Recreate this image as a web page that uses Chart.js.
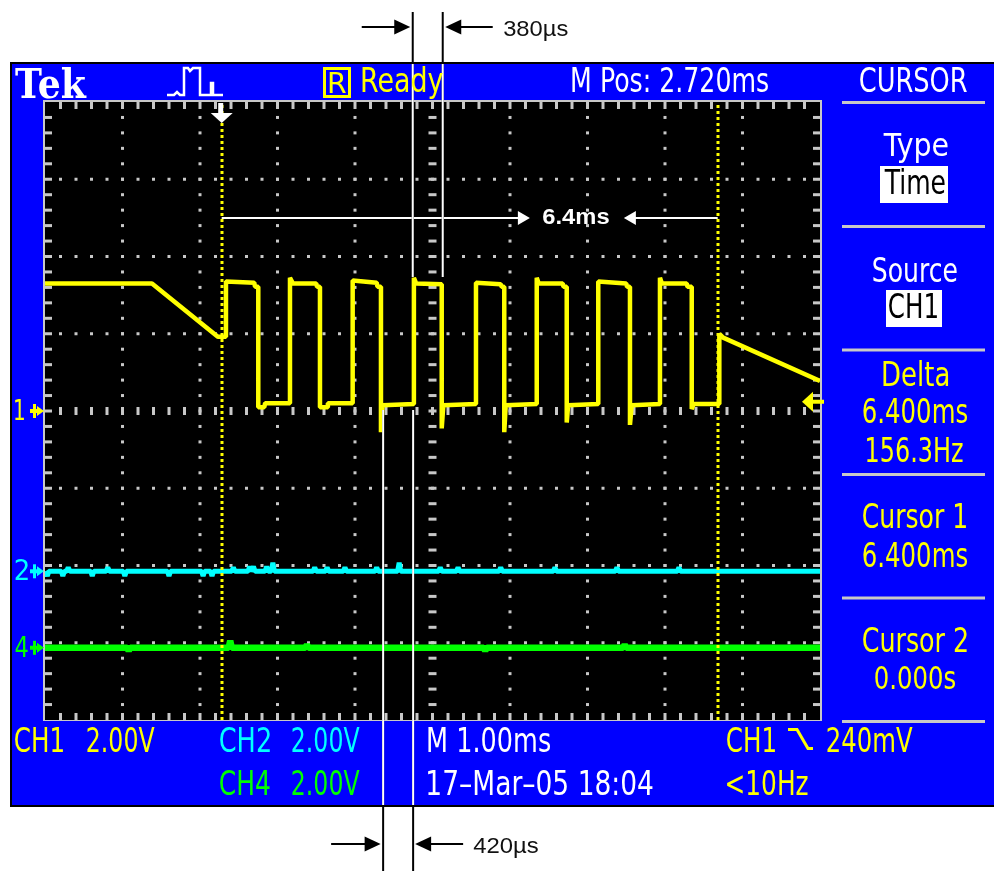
<!DOCTYPE html>
<html>
<head>
<meta charset="utf-8">
<title>Tek scope capture</title>
<script src="https://cdn.jsdelivr.net/npm/chart.js@4.4.0/dist/chart.umd.min.js"></script>
<style>
  html, body { margin: 0; padding: 0; background: #fff; }
  canvas { display: block; }
</style>
</head>
<body>
<canvas id="scope" width="994" height="871"></canvas>
<script>
const xRange = [-2.28, 7.72];
const yRange = [-8, 8];
const divsX = 10;
const divsY = 8;

const ch1Time = [
  -2.28, -0.9, -0.05, 0.03, 0.055, 0.055, 0.42, 0.43, 0.472, 0.472, 0.55, 0.56,
  0.881, 0.881, 0.92, 1.22, 1.23, 1.268, 1.268, 1.36, 1.37, 1.69, 1.69, 2.0,
  2.01, 2.055, 2.055, 2.075, 2.48, 2.48, 2.51, 2.839, 2.839, 2.86, 3.281, 3.281,
  3.6, 3.61, 3.646, 3.646, 3.665, 4.065, 4.065, 4.09, 4.4, 4.41, 4.452, 4.452,
  4.47, 4.859, 4.859, 5.22, 5.23, 5.268, 5.268, 5.29, 5.655, 5.655, 5.68, 6.0,
  6.01, 6.065, 6.065, 6.09, 6.421, 6.421, 6.47, 7.72,
];
const ch1Volts = [
  3.3, 3.3, 1.92, 1.92, 1.92, 3.35, 3.32, 3.22, 3.22, 0.1, 0.1, 0.2,
  0.2, 3.45, 3.3, 3.3, 3.22, 3.22, 0.1, 0.1, 0.2, 0.2, 3.38, 3.32,
  3.22, 3.22, -0.55, 0.15, 0.18, 3.45, 3.3, 3.28, -0.45, 0.15, 0.18, 3.32,
  3.28, 3.22, 3.22, -0.55, 0.15, 0.18, 3.45, 3.3, 3.3, 3.22, 3.22, -0.3,
  0.15, 0.18, 3.35, 3.3, 3.22, 3.22, -0.36, 0.15, 0.18, 3.45, 3.3, 3.3,
  3.22, 3.22, 0.05, 0.18, 0.18, 2.0, 1.9, 0.78,
];

// CH2 and CH4 sit flat at 0 V; only the noise specks are listed
const ch2Offset = -4.15;
const ch2SpikeTime = [-2.25, -2.05, -1.98, -1.67, -1.47, -1.25, -0.68, -0.24, -0.125, 0.15, 0.36, 0.41, 0.58, 0.66, 1.2, 1.36, 1.59, 2.0, 2.29, 2.82, 3.05, 3.6, 4.3, 5.1, 5.9];
const ch2SpikeVolts = [-0.12, -0.12, 0.1, -0.12, 0.1, -0.12, -0.12, -0.12, -0.12, 0.1, 0.12, 0.12, 0.12, 0.22, 0.1, 0.1, 0.1, 0.1, 0.22, 0.1, 0.1, 0.1, 0.1, 0.1, 0.1];
const ch4Offset = -6.13;
const ch4SpikeTime = [-1.2, 0.11, 1.1, 3.4, 5.2];
const ch4SpikeVolts = [-0.08, 0.18, 0.08, -0.08, 0.08];

const cursorTimes = [0, 6.4];
const triggerLevel = 0.24;
const measure380 = [2.465, 2.852];
const measure420 = [2.083, 2.47];
const deltaArrowVolts = 5.0;
const deltaLabelTime = 4.57;

const BLUE = "#0000ff";
const YELLOW = "#ffff00";
const CYAN = "#00ffff";
const GREEN = "#00ff00";
const GRID = "#c8c8c8";
const SCOPE_FONT = "40px 'DejaVu Sans'";

const toPoints = (ts, vs) => ts.map((t, i) => ({ x: t, y: vs[i] }));
const flatTrace = (offset, spikeT, spikeV) => {
  const pts = [{ x: xRange[0], y: offset }];
  spikeT.forEach((t, i) => {
    pts.push({ x: t - 0.02, y: offset }, { x: t, y: offset + spikeV[i] }, { x: t + 0.02, y: offset });
  });
  pts.push({ x: xRange[1], y: offset });
  return pts;
};

// squeeze text into a box: left/right edges, cap top and baseline
function fitText(ctx, txt, left, right, capTop, baseline, color, font) {
  ctx.save();
  ctx.font = font || SCOPE_FONT;
  const m = ctx.measureText(txt);
  const cap = ctx.measureText("H").actualBoundingBoxAscent;
  const w = m.actualBoundingBoxLeft + m.actualBoundingBoxRight;
  ctx.translate(left, baseline);
  ctx.scale((right - left) / w, (baseline - capTop) / cap);
  ctx.fillStyle = color;
  ctx.textBaseline = "alphabetic";
  ctx.textAlign = "left";
  ctx.fillText(txt, m.actualBoundingBoxLeft, 0);
  ctx.restore();
}

const scopeFace = {
  id: "scopeFace",
  beforeDraw(chart) {
    const { ctx, chartArea: a } = chart;
    const W = chart.width;
    ctx.save();
    ctx.fillStyle = "#fff";
    ctx.fillRect(0, 0, W, chart.height);
    ctx.fillStyle = "#000";
    ctx.fillRect(10, 62, W - 10, 745);
    ctx.fillStyle = BLUE;
    ctx.fillRect(12, 64, W - 12, 741);

    // graticule
    ctx.fillStyle = GRID;
    ctx.fillRect(a.left - 2, a.top - 2, a.width + 4, a.height + 3);
    ctx.fillStyle = "#000";
    ctx.fillRect(a.left, a.top, a.width, a.height);
    ctx.fillStyle = GRID;
    const dx = a.width / divsX, dy = a.height / divsY;
    const sx = dx / 5, sy = dy / 5;
    for (let i = 1; i < divsX; i++) {
      const x = a.left + i * dx;
      for (let k = 1; k < divsY * 5; k++) {
        const y = a.top + k * sy;
        if (i === divsX / 2) ctx.fillRect(x - 4, y - 1.5, 8, 3);
        else ctx.fillRect(x - 1.5, y - 1.5, 3, 3);
      }
    }
    for (let j = 1; j < divsY; j++) {
      const y = a.top + j * dy;
      for (let k = 1; k < divsX * 5; k++) {
        const x = a.left + k * sx;
        if (j === divsY / 2) ctx.fillRect(x - 1.5, y - 4, 3, 8);
        else ctx.fillRect(x - 1.5, y - 1.5, 3, 3);
      }
    }
    for (let k = 1; k < divsX * 5; k++) {
      const x = a.left + k * sx;
      ctx.fillRect(x - 1.5, a.top, 3, 7);
      ctx.fillRect(x - 1.5, a.bottom - 7, 3, 7);
    }
    for (let k = 1; k < divsY * 5; k++) {
      const y = a.top + k * sy;
      ctx.fillRect(a.left, y - 1.5, 7, 3);
      ctx.fillRect(a.right - 7, y - 1.5, 7, 3);
    }

    // menu separators
    [102.5, 226.5, 350, 474.5, 598, 721.5].forEach((y) => ctx.fillRect(842, y - 1.5, 143, 3));
    ctx.restore();
  },

  afterDatasetsDraw(chart) {
    const { ctx, chartArea: a } = chart;
    const xs = chart.scales.x, ys = chart.scales.y;
    ctx.save();

    // cursors
    ctx.fillStyle = YELLOW;
    cursorTimes.forEach((t) => {
      const x = Math.round(xs.getPixelForValue(t));
      for (let y = a.top + 3; y < a.bottom; y += 6) ctx.fillRect(x - 1.5, y, 3, 3);
    });

    // trigger position marker
    const tx = xs.getPixelForValue(0);
    ctx.fillStyle = "#fff";
    ctx.fillRect(tx - 3.5, a.top + 1, 5, 11);
    ctx.beginPath();
    ctx.moveTo(tx - 11, a.top + 11);
    ctx.lineTo(tx + 11, a.top + 11);
    ctx.lineTo(tx, a.top + 21);
    ctx.closePath();
    ctx.fill();

    // trigger level marker
    const ty = ys.getPixelForValue(triggerLevel);
    ctx.fillStyle = YELLOW;
    ctx.beginPath();
    ctx.moveTo(a.right - 18, ty);
    ctx.lineTo(a.right - 7, ty - 10);
    ctx.lineTo(a.right - 7, ty + 10);
    ctx.closePath();
    ctx.fill();
    ctx.fillRect(a.right - 8, ty - 2, 12, 4);

    // channel ground markers
    const chMarker = (label, color, v) => {
      const y = ys.getPixelForValue(v);
      fitText(ctx, label, 15, label === "1" ? 24 : 28, y - 12, y + 9, color);
      ctx.fillStyle = color;
      ctx.fillRect(33, y - 7, 3, 14);
      ctx.fillRect(30, y - 2, 10, 4);
      ctx.beginPath();
      ctx.moveTo(37, y - 5);
      ctx.lineTo(44, y);
      ctx.lineTo(37, y + 5);
      ctx.closePath();
      ctx.fill();
    };
    chMarker("1", YELLOW, 0);
    chMarker("2", CYAN, ch2Offset);
    chMarker("4", GREEN, ch4Offset);

    // 6.4 ms span between the cursors
    const ay = ys.getPixelForValue(deltaArrowVolts);
    const lx = xs.getPixelForValue(deltaLabelTime);
    const c1 = xs.getPixelForValue(cursorTimes[0]);
    const c2 = xs.getPixelForValue(cursorTimes[1]);
    fitText(ctx, "6.4ms", lx - 33, lx + 33, ay - 10, ay + 6, "#fff", "bold 40px 'Liberation Sans'");
    const arrow = (from, tip, y, color, len, half) => {
      const dir = Math.sign(tip - from);
      ctx.strokeStyle = color;
      ctx.fillStyle = color;
      ctx.lineWidth = 2;
      ctx.beginPath();
      ctx.moveTo(from, y);
      ctx.lineTo(tip - dir * (len - 2), y);
      ctx.stroke();
      ctx.beginPath();
      ctx.moveTo(tip, y);
      ctx.lineTo(tip - dir * len, y - half);
      ctx.lineTo(tip - dir * len, y + half);
      ctx.closePath();
      ctx.fill();
    };
    arrow(c1, lx - 46, ay, "#fff", 12, 7);
    arrow(c2, lx + 48, ay, "#fff", 12, 7);

    // pulse width marks (black on paper, white on the screen)
    const vline = (x, y1, y2) => {
      ctx.lineWidth = 2;
      ctx.strokeStyle = "#000";
      ctx.beginPath();
      ctx.moveTo(x, y1);
      ctx.lineTo(x, y2);
      ctx.stroke();
      ctx.save();
      ctx.beginPath();
      ctx.rect(12, 64, chart.width, 741);
      ctx.clip();
      ctx.strokeStyle = "#fff";
      ctx.beginPath();
      ctx.moveTo(x, y1);
      ctx.lineTo(x, y2);
      ctx.stroke();
      ctx.restore();
    };
    const t1 = xs.getPixelForValue(measure380[0]);
    const t2 = xs.getPixelForValue(measure380[1]);
    vline(t1, 12, 277);
    vline(t2, 12, 277);
    arrow(t1 - 51, t1 - 2.5, 27, "#000", 16, 7.5);
    arrow(t2 + 50, t2 + 2.5, 27, "#000", 16, 7.5);
    fitText(ctx, "380\u00b5s", t2 + 61, t2 + 125, 20, 36, "#111", "40px 'Liberation Sans'");

    const b1 = xs.getPixelForValue(measure420[0]);
    const b2 = xs.getPixelForValue(measure420[1]);
    vline(b1, 410, chart.height);
    vline(b2, 410, chart.height);
    arrow(b1 - 52, b1 - 2.5, 844, "#000", 16, 7.5);
    arrow(b2 + 50, b2 + 2, 844, "#000", 16, 7.5);
    fitText(ctx, "420\u00b5s", b2 + 60, b2 + 125, 837, 853, "#111", "40px 'Liberation Sans'");
    ctx.restore();
  },

  afterDraw(chart) {
    const ctx = chart.ctx;
    ctx.save();
    // header
    fitText(ctx, "Tek", 15, 87, 68, 98, "#fff", "bold 40px 'DejaVu Serif'");
    ctx.strokeStyle = "#fff";
    ctx.lineWidth = 2.5;
    ctx.beginPath();
    ctx.moveTo(167, 95);
    ctx.lineTo(174, 95);
    ctx.lineTo(177, 92);
    ctx.lineTo(180, 95);
    ctx.lineTo(184, 95);
    ctx.lineTo(184, 68);
    ctx.lineTo(188, 68);
    ctx.lineTo(190, 71);
    ctx.lineTo(193, 68);
    ctx.lineTo(200, 68);
    ctx.lineTo(200, 95);
    ctx.lineTo(211, 95);
    ctx.lineTo(211, 83);
    ctx.lineTo(213, 83);
    ctx.lineTo(213, 95);
    ctx.lineTo(223, 95);
    ctx.stroke();
    ctx.strokeStyle = YELLOW;
    ctx.lineWidth = 3;
    ctx.strokeRect(324.5, 68.5, 25, 28);
    fitText(ctx, "R", 329, 346, 72, 93, YELLOW);
    fitText(ctx, "Ready", 362, 443, 67, 92, YELLOW);
    fitText(ctx, "M Pos: 2.720ms", 572, 768, 67, 92, "#fff");
    fitText(ctx, "CURSOR", 860, 967, 67, 92, "#fff");

    // side menu
    fitText(ctx, "Type", 883, 948, 132, 156, "#fff");
    ctx.fillStyle = "#fff";
    ctx.fillRect(880, 166, 68, 37);
    fitText(ctx, "Time", 884, 945, 169, 194, "#000");
    fitText(ctx, "Source", 873, 957, 257, 282, "#fff");
    ctx.fillStyle = "#fff";
    ctx.fillRect(886, 290, 56, 37);
    fitText(ctx, "CH1", 889, 937, 293, 318, "#000");
    fitText(ctx, "Delta", 883, 948, 361, 386, YELLOW);
    fitText(ctx, "6.400ms", 863, 967, 398, 423, YELLOW);
    fitText(ctx, "156.3Hz", 867, 963, 437, 462, YELLOW);
    fitText(ctx, "Cursor 1", 863, 966, 503, 528, YELLOW);
    fitText(ctx, "6.400ms", 863, 967, 542, 567, YELLOW);
    fitText(ctx, "Cursor 2", 863, 967, 627, 652, YELLOW);
    fitText(ctx, "0.000s", 875, 955, 665, 689, YELLOW);

    // bottom readouts
    fitText(ctx, "CH1", 15, 63, 727, 752, YELLOW);
    fitText(ctx, "2.00V", 87, 155, 727, 752, YELLOW);
    fitText(ctx, "CH2", 220, 270, 727, 752, CYAN);
    fitText(ctx, "2.00V", 292, 360, 727, 752, CYAN);
    fitText(ctx, "CH4", 220, 270, 770, 795, GREEN);
    fitText(ctx, "2.00V", 292, 360, 770, 795, GREEN);
    fitText(ctx, "M 1.00ms", 428, 550, 727, 752, "#fff");
    fitText(ctx, "17\u2013Mar\u201305 18:04", 428, 653, 770, 795, "#fff");
    fitText(ctx, "CH1", 727, 775, 727, 752, YELLOW);
    ctx.strokeStyle = YELLOW;
    ctx.lineWidth = 3;
    ctx.beginPath();
    ctx.moveTo(788, 729.5);
    ctx.lineTo(797, 729.5);
    ctx.lineTo(808, 748.5);
    ctx.lineTo(813, 748.5);
    ctx.stroke();
    fitText(ctx, "240mV", 827, 913, 727, 752, YELLOW);
    fitText(ctx, "<10Hz", 727, 808, 770, 795, YELLOW);
    ctx.restore();
  },
};

const lineStyle = { pointRadius: 0, tension: 0, fill: false, clip: 0, borderJoinStyle: "bevel", borderCapStyle: "butt" };

new Chart(document.getElementById("scope").getContext("2d"), {
  type: "line",
  data: {
    datasets: [
      { label: "CH1", data: toPoints(ch1Time, ch1Volts), borderColor: YELLOW, borderWidth: 4.5, ...lineStyle },
      { label: "CH2", data: flatTrace(ch2Offset, ch2SpikeTime, ch2SpikeVolts), borderColor: CYAN, borderWidth: 5, ...lineStyle },
      { label: "CH4", data: flatTrace(ch4Offset, ch4SpikeTime, ch4SpikeVolts), borderColor: GREEN, borderWidth: 6.5, ...lineStyle },
    ],
  },
  options: {
    responsive: false,
    animation: false,
    devicePixelRatio: 1,
    events: [],
    layout: { padding: { left: 45, top: 102, right: 174, bottom: 151 } },
    scales: {
      x: { type: "linear", min: xRange[0], max: xRange[1], display: false },
      y: { type: "linear", min: yRange[0], max: yRange[1], display: false },
    },
    plugins: { legend: { display: false }, tooltip: { enabled: false } },
  },
  plugins: [scopeFace],
});
</script>
</body>
</html>
